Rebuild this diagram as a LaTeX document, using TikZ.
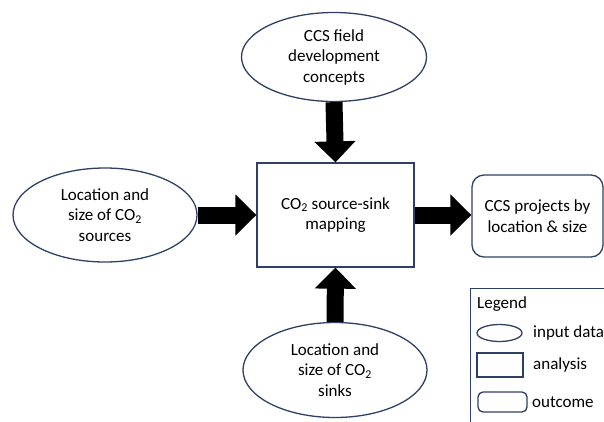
\documentclass[tikz,border=0pt]{standalone}
\usepackage{fontspec}
\setmainfont{Carlito}
\usetikzlibrary{shapes.geometric,arrows.meta}
\definecolor{navy}{RGB}{47,64,102}
\begin{document}
\begin{tikzpicture}[x=1pt,y=-1pt,
  txt/.style={font=\fontsize{17}{20.5}\selectfont, align=center},
  inell/.style={ellipse, draw=navy, line width=1.3pt, inner sep=0pt, txt},
  anbox/.style={rectangle, draw=navy, line width=1.3pt, inner sep=0pt, txt},
  outbox/.style={rectangle, rounded corners=12pt, draw=navy, line width=1.3pt, inner sep=0pt, txt},
  fat/.style={line width=17pt, -{Triangle[length=21pt,width=40pt]}},
  lgtxt/.style={font=\fontsize{17}{20.5}\selectfont, inner sep=0pt, anchor=west}
]
\useasboundingbox (0,0) rectangle (604,421);
\clip (0,0) rectangle (604,421);
\fill[white] (0,0) rectangle (604,421);

\node[inell, minimum width=185pt, minimum height=89pt] (top) at (334,57)
  {CCS field\\development\\concepts};
\node[inell, minimum width=184pt, minimum height=94pt] (left) at (105,215)
  {Location and\\size of CO\textsubscript{2}\\sources};
\node[inell, minimum width=184pt, minimum height=95pt] (bottom) at (335,370)
  {Location and\\size of CO\textsubscript{2}\\sinks};
\node[anbox, minimum width=157pt, minimum height=104pt] (map) at (335.5,215)
  {CO\textsubscript{2} source-sink\\mapping};
\node[outbox, minimum width=131pt, minimum height=82pt] (proj) at (537.5,216)
  {CCS projects by\\location \& size};

\draw[fat] (top.south) -- (map.north);
\draw[fat] (bottom.north) -- (map.south);
\draw[fat] (left.east) -- (map.west);
\draw[fat] (map.east) -- (map.east -| proj.west);

% legend
\node[rectangle, draw=navy, line width=1.3pt, anchor=north west,
      minimum width=170pt, minimum height=150pt] (legend) at (470,288) {};
\node[lgtxt] (lgtitle) at (477,304) {Legend};
\node[ellipse, draw=navy, line width=1.3pt, minimum width=45pt, minimum height=17pt, inner sep=0pt] (lgell) at (499.5,333) {};
\node[lgtxt] (lgin) at (533,333) {input data};
\node[rectangle, draw=navy, line width=1.3pt, minimum width=46pt, minimum height=24pt, inner sep=0pt] (lgrect) at (500,365) {};
\node[lgtxt] (lgan) at (533,365) {analysis};
\node[rectangle, rounded corners=5pt, draw=navy, line width=1.3pt, minimum width=49pt, minimum height=20pt, inner sep=0pt] (lground) at (502.5,402) {};
\node[lgtxt] (lgout) at (532,402) {outcome};
\end{tikzpicture}
\end{document}
